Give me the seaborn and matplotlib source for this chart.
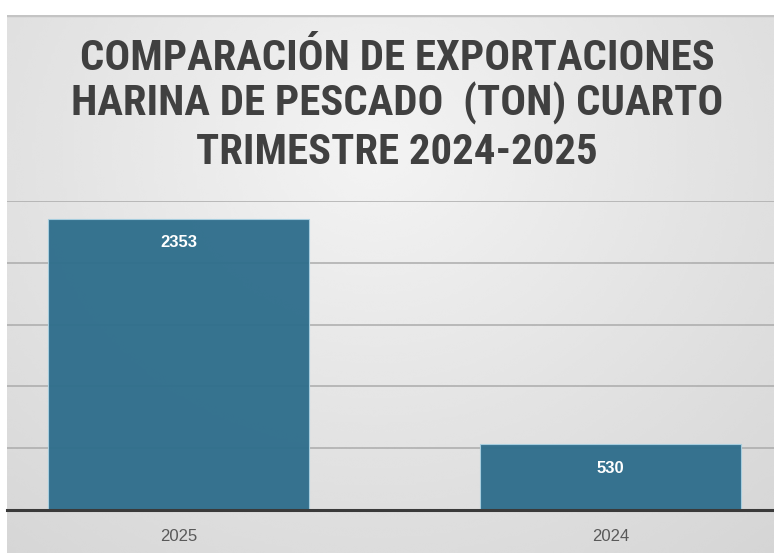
import matplotlib.pyplot as plt
import numpy as np
import pandas as pd
import seaborn as sns
from matplotlib import font_manager

# data
years = ['2025', '2024']
toneladas = [2353, 530]
title_lines = [
    'COMPARACIÓN DE EXPORTACIONES',
    'HARINA DE PESCADO  (TON) CUARTO',
    'TRIMESTRE 2024-2025',
]
grid_values = [500, 1000, 1500, 2000, 2500]

df = pd.DataFrame({'anio': years, 'ton': toneladas})

sns.set_theme(style='white')
plt.rcParams['font.family'] = ['Liberation Sans', 'DejaVu Sans']

# narrowest bold family we can find for the title
installed = {f.name for f in font_manager.fontManager.ttflist}
title_family = 'Liberation Sans'
for cand in ['Liberation Sans Narrow', 'Roboto Condensed', 'Open Sans Condensed',
             'Noto Sans Condensed', 'DejaVu Sans Condensed', 'Roboto', 'Liberation Sans']:
    if cand in installed:
        title_family = cand
        break

W, H = 774, 553
fig = plt.figure(figsize=(W / 100, H / 100), dpi=100)
fig.patch.set_facecolor('white')

# gradient background panel (screenshot leaves a white strip top and left)
bg = fig.add_axes([7 / W, 0, 1 - 7 / W, (H - 15) / H])
yy, xx = np.mgrid[0:1:200j, 0:1:200j]
dist = np.sqrt(((xx - 0.48) / 0.8) ** 2 + ((yy - 0.25) / 1.0) ** 2)
shade = 0.955 - 0.12 * np.clip(dist, 0, 1.2)
bg.imshow(shade, cmap='gray', vmin=0, vmax=1, aspect='auto',
          extent=[0, 1, 0, 1], origin='upper', interpolation='bicubic')
bg.axis('off')
bg.axhline(1, color='#c4c4c4', lw=2.5)

ax = fig.add_axes([7 / W, 43 / H, 1 - 7 / W, (510 - 201) / H])
ax.patch.set_alpha(0)
sns.barplot(data=df, x='anio', y='ton', ax=ax, color='#2f6e8c', width=0.604,
            saturation=1, alpha=0.96, edgecolor='#a8cfe0', linewidth=0.8, zorder=3)

ax.set_ylim(0, 2500)
ax.set_xlim(-0.397, 1.378)
for g in grid_values:
    ax.axhline(g, color='#ababab', lw=1.1, zorder=1)
ax.set_yticks([])
ax.set_xlabel('')
ax.set_ylabel('')
for s in ['left', 'right', 'top']:
    ax.spines[s].set_visible(False)
ax.spines['bottom'].set_color('#3a3a3a')
ax.spines['bottom'].set_linewidth(2.2)
ax.spines['bottom'].set_zorder(5)
ax.tick_params(axis='x', length=0, pad=14, labelsize=12, labelcolor='#595959')

for i, v in enumerate(toneladas):
    ax.annotate(str(v), (i, v), xytext=(0, -17), textcoords='offset points',
                ha='center', va='center', color='white', fontsize=12,
                fontweight='bold', zorder=6)

# title: fit the widest line to the reference width (~633 px)
renderer = fig.canvas.get_renderer()
probe = fig.text(0, 0, title_lines[0], fontsize=20, fontweight='bold',
                 family=title_family)
probe_w = probe.get_window_extent(renderer).width
probe.remove()
title_size = min(33, 20 * 633 / probe_w)

for k, line in enumerate(title_lines):
    y_px = [58, 103, 153][k]
    fig.text(397 / W, 1 - y_px / H, line, ha='center', va='center',
             fontsize=title_size, fontweight='bold', color='#404040',
             family=title_family)

fig.savefig('out.png', dpi=100)
